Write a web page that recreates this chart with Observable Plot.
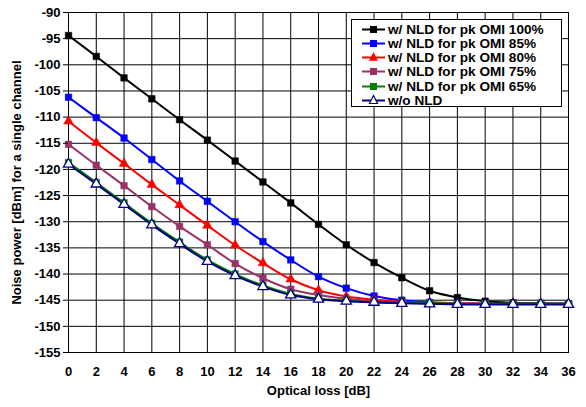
<!DOCTYPE html>
<html>
<head>
<meta charset="utf-8">
<script src="https://cdn.jsdelivr.net/npm/d3@7"></script>
<script src="https://cdn.jsdelivr.net/npm/@observablehq/plot@0.6"></script>
<style>
  html, body { margin: 0; padding: 0; background: #fff; }
  #wrap { position: relative; width: 586px; height: 407px; font-family: "Liberation Sans", Arial, sans-serif; }
  #legend { position: absolute; left: 351px; top: 19px; width: 209px; height: 86px; background: #fff; border: 1px solid #000; box-sizing: content-box; }
  .row { position: absolute; left: 10px; height: 14px; display: flex; align-items: center; font-weight: bold; font-size: 13.6px; color: #000; white-space: nowrap; }
  .row svg { margin-right: 3px; }
</style>
</head>
<body>
<div id="wrap"></div>
<script>
// ---- data ----
const xLoss = [0, 2, 4, 6, 8, 10, 12, 14, 16, 18, 20, 22, 24, 26, 28, 30, 32, 34, 36];
const omi100 = [-94.4, -98.4, -102.5, -106.5, -110.5, -114.4, -118.4, -122.4, -126.4, -130.5, -134.4, -137.8, -140.7, -143.2, -144.5, -145.2, -145.5, -145.6, -145.7];
const omi85  = [-106.2, -110.1, -114.0, -118.1, -122.2, -126.1, -130.0, -133.8, -137.3, -140.5, -142.7, -144.2, -145.0, -145.4, -145.6, -145.7, -145.7, -145.7, -145.7];
const omi80  = [-110.8, -114.9, -118.9, -122.9, -126.8, -130.7, -134.5, -137.9, -141.0, -143.1, -144.3, -144.9, -145.3, -145.5, -145.6, -145.7, -145.7, -145.7, -145.7];
const omi75  = [-115.2, -119.2, -123.1, -127.1, -130.9, -134.4, -138.0, -140.8, -142.9, -144.0, -144.7, -145.2, -145.5, -145.6, -145.7, -145.7, -145.7, -145.7, -145.7];
const omi65  = [-118.7, -122.5, -126.4, -130.3, -133.9, -137.3, -140.0, -142.2, -143.8, -144.7, -145.1, -145.4, -145.5, -145.6, -145.7, -145.7, -145.7, -145.7, -145.7];
const noNLD  = [-119.0, -122.8, -126.7, -130.6, -134.2, -137.6, -140.3, -142.4, -144.0, -144.8, -145.2, -145.4, -145.6, -145.7, -145.8, -145.8, -145.8, -145.8, -145.8];

const seriesNames = ["w/ NLD for pk OMI 100%", "w/ NLD for pk OMI 85%", "w/ NLD for pk OMI 80%", "w/ NLD for pk OMI 75%", "w/ NLD for pk OMI 65%", "w/o NLD"];
const seriesValues = [omi100, omi85, omi80, omi75, omi65, noNLD];
const seriesColors = ["#000000", "#0000ff", "#ff0000", "#993366", "#008000", "#000080"];
const seriesSymbols = ["square", "square", "triangle", "square", "square", "triangle"];

const xTicks = [0, 2, 4, 6, 8, 10, 12, 14, 16, 18, 20, 22, 24, 26, 28, 30, 32, 34, 36];
const yTicks = [-155, -150, -145, -140, -135, -130, -125, -120, -115, -110, -105, -100, -95, -90];

// ---- build table ----
const rows = [];
seriesNames.forEach((name, i) => {
  seriesValues[i].forEach((v, j) => rows.push({series: name, idx: i, loss: xLoss[j], noise: v}));
});

const marks = [
  Plot.gridX(xTicks, {x: d => d, stroke: "#000", strokeOpacity: 1, strokeWidth: 1}),
  Plot.gridY(yTicks, {y: d => d, stroke: "#000", strokeOpacity: 1, strokeWidth: 1}),
  Plot.frame({stroke: "#000", strokeWidth: 1})
];
seriesNames.forEach((name, i) => {
  const data = rows.filter(r => r.idx === i);
  marks.push(Plot.line(data, {x: "loss", y: "noise", stroke: seriesColors[i], strokeWidth: 2, curve: "catmull-rom"}));
});
seriesNames.forEach((name, i) => {
  const data = rows.filter(r => r.idx === i);
  const open = name === "w/o NLD";
  marks.push(Plot.dot(data, {
    x: "loss", y: "noise",
    symbol: () => seriesSymbols[i],
    r: seriesSymbols[i] === "triangle" ? (open ? 3.8 : 3.6) : 3.7,
    fill: open ? "#ffffff" : seriesColors[i],
    stroke: seriesColors[i],
    strokeWidth: open ? 1.3 : 0.5
  }));
});
marks.push(
  Plot.axisX({ticks: xTicks, tickSize: 0, tickPadding: 14, fontSize: 13, fontWeight: "bold",
    label: "Optical loss [dB]", labelAnchor: "center", labelOffset: 42, labelArrow: "none"}),
  Plot.axisY({ticks: yTicks, tickSize: 5, tickPadding: 3, fontSize: 13, fontWeight: "bold",
    tickFormat: d => String(d).replace("\u2212", "-"),
    label: "Noise power [dBm] for a single channel", labelAnchor: "center", labelOffset: 57, labelArrow: "none"})
);

const chart = Plot.plot({
  width: 586, height: 407,
  marginLeft: 68, marginRight: 18, marginTop: 12, marginBottom: 55,
  style: {fontFamily: "'Liberation Sans', Arial, sans-serif", fontSize: "12px", fontWeight: "bold", color: "#000", background: "#fff"},
  x: {domain: [0, 36]},
  y: {domain: [-155, -90]},
  symbol: {type: "identity"},
  marks
});
document.getElementById("wrap").appendChild(chart);
chart.querySelectorAll("[aria-label='y-axis tick label'] text, [aria-label='x-axis tick label'] text").forEach(t => {
  t.textContent = t.textContent.replace("\u2212", "-");
});

// ---- legend ----
const legend = document.createElement("div");
legend.id = "legend";
seriesNames.forEach((name, i) => {
  const row = document.createElement("div");
  row.className = "row";
  row.style.top = (2 + i * 14.3) + "px";
  const c = seriesColors[i];
  const open = name === "w/o NLD";
  let marker;
  if (seriesSymbols[i] === "square") marker = `<rect x="8" y="3" width="7" height="7" fill="${c}"/>`;
  else marker = `<path d="M11.5,1.5 L15.5,9.5 L7.5,9.5 Z" fill="${open ? '#fff' : c}" stroke="${c}" stroke-width="${open ? 1.2 : 0.5}"/>`;
  row.innerHTML = `<svg width="23" height="13"><line x1="0" x2="23" y1="6.5" y2="6.5" stroke="${c}" stroke-width="2"/>${marker}</svg><span>${name}</span>`;
  legend.appendChild(row);
});
document.getElementById("wrap").appendChild(legend);
</script>
</body>
</html>
